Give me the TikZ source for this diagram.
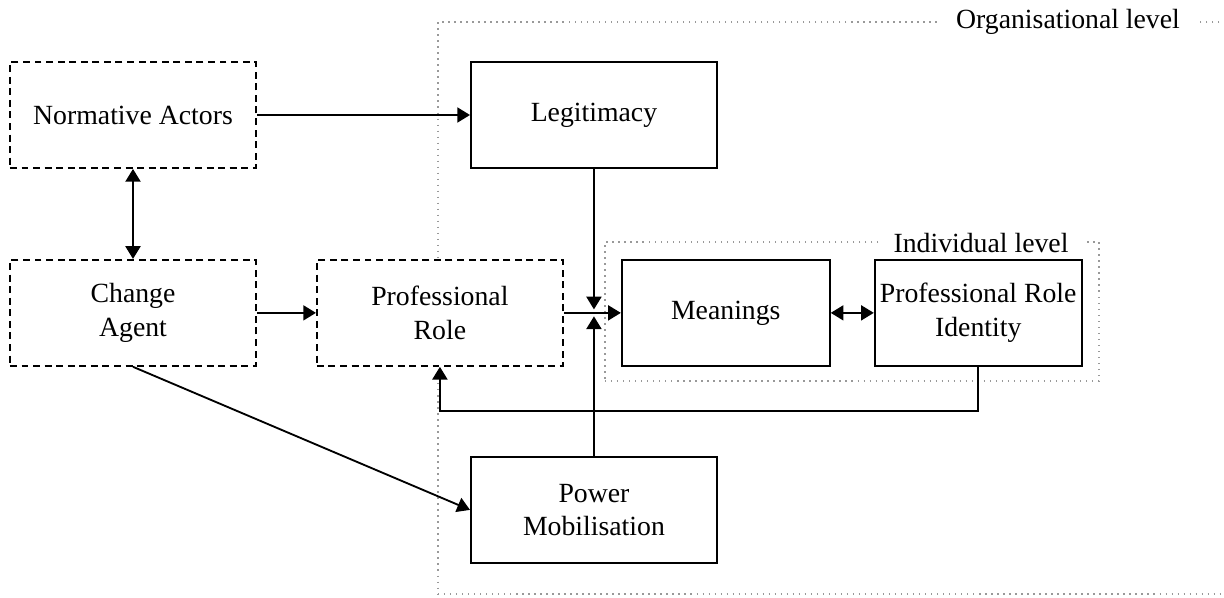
\documentclass[tikz,border=0pt]{standalone}
\usepackage{fontspec}
\setmainfont{Liberation Serif}
\usetikzlibrary{positioning,arrows.meta}

\begin{document}
\begin{tikzpicture}[x=0.0152cm, y=-0.0152cm,
    font=\fontsize{12}{14.5}\selectfont,
    box/.style={rectangle, draw, thick, fill=white, align=center, inner sep=2pt, minimum width=3.739cm, minimum height=1.611cm},
    dbox/.style={box, dash pattern=on 3pt off 2pt},
    grp/.style={rectangle, draw=gray!80, dotted, line width=0.6pt, inner sep=0pt},
    lvl/.style={fill=white, inner xsep=6.5pt, inner ysep=1pt},
    arr/.style={-{Triangle[length=5.5pt,width=6.5pt]}, thick},
    darr/.style={{Triangle[length=5.5pt,width=6.5pt]}-{Triangle[length=5.5pt,width=6.5pt]}, thick}]

    \useasboundingbox (0,0) rectangle (1224,597);
    \clip (0,0) rectangle (1224,597);

    %% Levels
    \node[grp, minimum width=12.19cm, minimum height=8.694cm] (org) at (839,308) {};
    \node[lvl, inner xsep=7.5pt] (orgl) at (1068,22) {Organisational level};
    \node[grp, minimum width=7.509cm, minimum height=2.113cm] (ind) at (852,311.5) {};
    \node[lvl] (indl) at (981,243) {Individual level};

    %% Boxes
    \node[dbox] (na) at (133,115) {Normative Actors};
    \node[dbox, below=1.368cm of na] (ca) {Change\\Agent};
    \node[dbox, right=0.897cm of ca] (pr) {Professional\\Role};
    \node[box, right=3.238cm of na] (leg) {Legitimacy};
    \node[box, below=4.362cm of leg] (pm) {Power\\Mobilisation};
    \node[box, minimum width=3.162cm, right=0.866cm of pr] (mean) {Meanings};
    \node[box, minimum width=3.146cm, right=0.654cm of mean] (pri) {Professional Role\\Identity};

    %% Links
    \coordinate (jn) at (leg.south |- mean.west);
    \draw[arr] (na) -- (leg);
    \draw[darr] (na) -- (ca);
    \draw[arr] (ca) -- (pr);
    \draw[arr] (pr) -- (mean);
    \draw[arr] (leg) -- ([yshift=1.5pt]jn);
    \draw[arr] (pm) -- ([yshift=-1.5pt]jn);
    \draw[darr] (mean) -- (pri);
    \draw[arr] (ca.south) -- (pm.west);
    \draw[arr] (pri.south) -- ++(0,44) -| (pr.south);
\end{tikzpicture}
\end{document}
